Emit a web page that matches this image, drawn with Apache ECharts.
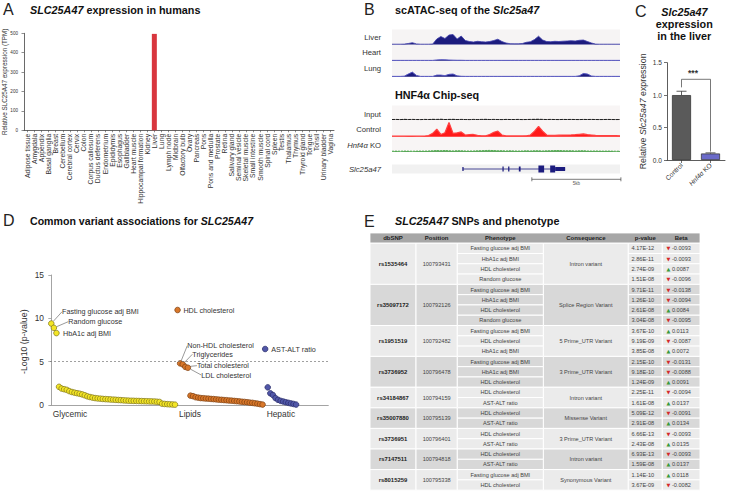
<!DOCTYPE html>
<html>
<head>
<meta charset="utf-8">
<script src="https://cdn.jsdelivr.net/npm/echarts@6/dist/echarts.min.js"></script>
<style>
html,body{margin:0;padding:0;background:#ffffff;}
#chart{width:731px;height:491px;}
</style>
</head>
<body>
<div id="chart"></div>
<script>
// ================= DATA =================
// Panel A
const tissues = ['Adipose tissue','Amygdala','Appendix','Basal ganglia','Breast','Cerebellum','Cerebral cortex','Cervix','Colon','Corpus callosum','Ductus deferens','Endometrium','Epididymis','Esophagus','Gallbladder','Heart muscle','Hippocampal formation','Kidney','Liver','Lung','Lymph node','Midbrain','Olfactory bulb','Ovary','Pancreas','Pons','Pons and medulla','Prostate','Retina','Salivary gland','Seminal vesicle','Skeletal muscle','Small intestine','Smooth muscle','Spinal cord','Spleen','Testis','Thalamus','Thymus','Thyroid gland','Tongue','Tonsil','Urinary bladder','Vagina'];
const tissueTPM = [0,0,0,0,0,0,0,0,0,0,0,0,0,0,0,0,0,0,497,0,0,0,0,0,0,0,0,0,0,0,0,0,0,0,0,0,0,0,0,0,0,0,0,0];
const tpmTicks = [0, 500, 100];

// Panel B (signal per genomic bin, arbitrary units)
const liverATAC = [0.3,0.3,0.3,0.4,1.0,1.8,0.6,0.3,0.3,0.3,0.5,5.5,8.0,6.0,9.5,10.0,5.5,8.5,4.0,3.0,2.5,3.2,2.8,2.5,3.0,4.0,5.3,3.0,1.5,0.8,0.7,0.7,1.0,2.2,2.8,5.0,8.3,4.5,3.0,2.8,3.2,3.0,3.3,3.5,3.8,3.5,4.2,4.5,3.0,1.5,0.4,0.3,0.3,0.3,0.3,0.3,0.3];
const heartATAC = [0.3,0.3,0.3,0.3,0.3,0.3,0.3,0.3,0.3,0.3,0.3,0.7,0.9,0.8,0.6,0.5,0.4,0.4,0.3,0.3,0.3,0.3,0.3,0.3,0.3,0.3,0.3,0.3,0.3,0.3,0.3,0.3,0.3,0.3,0.3,0.3,0.3,0.3,0.3,0.3,0.3,0.3,0.3,0.3,0.3,0.3,0.3,0.3,0.3,0.3,0.3,0.3,0.3,0.3,0.3,0.3,0.3];
const lungATAC = [0.3,0.3,0.3,0.5,2.5,4.3,1.2,0.3,0.3,0.3,0.3,1.5,1.5,1.0,2.2,2.5,0.8,0.4,0.3,0.3,0.3,0.3,0.3,0.3,0.3,0.3,0.3,0.3,0.3,0.3,0.3,0.3,0.3,0.3,0.3,0.3,0.3,0.3,0.3,0.3,0.3,0.3,0.3,0.3,0.3,0.3,0.8,3.0,2.5,0.6,0.3,0.3,0.3,0.3,0.3,0.3,0.3];
const inputChIP = [0.5,0.6,0.4,0.7,0.5,0.6,0.5,0.4,0.6,0.5,0.7,0.6,0.8,0.5,0.6,0.7,0.5,0.6,0.5,0.4,0.6,0.5,0.6,0.7,0.5,0.6,0.5,0.4,0.6,0.5,0.5,0.6,0.4,0.5,0.6,0.7,0.8,0.6,0.5,0.6,0.5,0.4,0.6,0.5,0.6,0.5,0.4,0.6,0.5,0.6,0.5,0.4,0.5,0.6,0.5,0.4,0.5];
const controlChIP = [0.5,0.5,0.5,0.5,0.6,0.6,0.5,0.5,0.6,1.0,3.0,6.7,2.0,3.5,12.7,3.0,3.5,4.3,1.5,1.8,2.0,1.2,0.8,0.8,2.0,4.0,5.0,1.5,0.7,0.7,0.7,0.7,0.7,0.8,1.5,5.0,9.3,5.0,1.5,1.3,1.3,1.4,1.5,1.5,1.6,1.8,2.2,2.5,1.8,1.5,1.2,1.0,1.0,1.0,0.9,0.9,0.8];
const koChIP = [0.5,0.6,0.5,0.7,0.6,0.5,0.6,0.7,0.6,0.8,0.9,1.1,1.0,1.2,0.9,0.8,1.0,0.9,0.8,0.7,0.8,0.9,1.0,1.2,1.3,1.1,0.9,1.0,0.8,0.9,0.8,0.7,0.8,0.9,0.8,1.0,0.9,0.8,0.9,1.0,1.1,1.2,1.0,0.9,1.0,0.8,0.9,1.0,0.8,0.7,0.8,0.7,0.6,0.7,0.6,0.5,0.6];
const trackNames = ['Liver','Heart','Lung','Input','Control','Hnf4α KO','Slc25a47'];
const geneSpanKb = [3.97, 9.72];
const geneExonStartKb = [3.95, 6.20, 6.52, 7.12, 8.22, 8.88, 9.16];
const geneExonEndKb   = [4.02, 6.27, 6.59, 7.22, 8.54, 9.16, 9.72];
const geneExonKind    = ['tss','small','small','small','cds','cds','utr'];
const regionLengthKb = 12.8;
const scaleBarStartKb = 7.85;
const scaleBarLengthKb = 5;

// Panel C
const cGroups = ['Control', 'Hnf4α KO'];
const cMeans = [1.0, 0.1];
const cSems = [0.06, 0.01];
const cTicks = [0, 1.5, 0.5];
const cSigBracket = [1.244, 1.12, 0.13];
const cSigText = '***';

// Panel D
const dGroupNames = ['Glycemic', 'Lipids', 'Hepatic'];
const glycemicTopNames = ['Fasting glucose adj BMI', 'Random glucose', 'HbA1c adj BMI'];
const glycemicTop = [9.4, 8.9, 8.3];
const glycemicRest = [2.1,1.9,1.82,1.75,1.6,1.5,1.42,1.36,1.3,1.22,1.12,1.0,0.92,0.85,0.8,0.76,0.73,0.7,0.68,0.66,0.64,0.62,0.6,0.58,0.56,0.54,0.52,0.5,0.49,0.48,0.47,0.46,0.45,0.44,0.43,0.42,0.41,0.4,0.38,0.35,0.15,0.12,0.1,0.08,0.06,0.04];
const lipidTopNames = ['HDL cholesterol', 'Non-HDL cholesterol', 'Triglycerides', 'Total cholesterol', 'LDL cholesterol'];
const lipidTop = [10.96, 4.8, 4.7, 4.4, 4.3];
const lipidRest = [1.08,1.02,0.9,0.85,0.8,0.78,0.75,0.73,0.7,0.68,0.65,0.62,0.6,0.57,0.55,0.52,0.5,0.47,0.44,0.41,0.38,0.35,0.32,0.28,0.25,0.2,0.15,0.1,0.05];
const hepaticTopNames = ['AST-ALT ratio'];
const hepaticTop = [6.46];
const hepaticRest = [2.04,1.35,1.15,0.8,0.6,0.48,0.4,0.32,0.25,0.18,0.12,0.05];
const dThreshold = 5;
const dTicks = [0, 15, 5];
const dAxisTitle = '-Log10 (p-value)';

// Panel E
const tableHeaders = ['dbSNP','Position','Phenotype','Consequence','p-value','Beta'];
const snpIds = ['rs1535464','rs35097172','rs1951519','rs3736952','rs34184867','rs35007880','rs3736951','rs7147511','rs8015259'];
const snpPositions = ['100793431','100792126','100792482','100796478','100794159','100795139','100796401','100794818','100795338'];
const snpConsequences = ['Intron variant','Splice Region Variant','5 Prime_UTR Variant','3 Prime_UTR Variant','Intron variant','Missense Variant','3 Prime_UTR Variant','Intron variant','Synonymous Variant'];
const snpPhenotypes = [
  ['Fasting glucose adj BMI','HbA1c adj BMI','HDL cholesterol','Random glucose'],
  ['Fasting glucose adj BMI','HbA1c adj BMI','HDL cholesterol','Random glucose'],
  ['Fasting glucose adj BMI','HDL cholesterol','HbA1c adj BMI'],
  ['Fasting glucose adj BMI','HbA1c adj BMI','HDL cholesterol'],
  ['HDL cholesterol','AST-ALT ratio'],
  ['HDL cholesterol','AST-ALT ratio'],
  ['HDL cholesterol','AST-ALT ratio'],
  ['HDL cholesterol','AST-ALT ratio'],
  ['Fasting glucose adj BMI','HDL cholesterol']
];
const snpPValues = [
  ['4.17E-12','2.86E-11','2.74E-09','1.51E-08'],
  ['9.71E-11','1.26E-10','2.61E-08','3.04E-08'],
  ['3.67E-10','9.19E-09','3.85E-08'],
  ['2.15E-10','9.18E-10','1.24E-09'],
  ['2.25E-11','1.61E-08'],
  ['5.09E-12','2.91E-08'],
  ['6.66E-13','2.43E-08'],
  ['6.93E-13','1.59E-08'],
  ['1.14E-10','3.67E-09']
];
const snpBetas = [
  [-0.0093,-0.0093,0.0087,-0.0096],
  [-0.0138,-0.0094,0.0084,-0.0095],
  [0.0113,-0.0087,0.0072],
  [-0.0131,-0.0088,0.0091],
  [-0.0094,0.0137],
  [-0.0091,0.0134],
  [-0.0093,0.0135],
  [-0.0093,0.0137],
  [0.0118,-0.0082]
];

// ================= STYLE / LAYOUT =================
const FONT = '"Liberation Sans", Arial, Helvetica, sans-serif';
const NAVY = '#1c1c7e';
const chart = echarts.init(document.getElementById('chart'), null, {renderer: 'svg', width: 731, height: 491});

const G = (o) => Object.assign({containLabel: false, outerBoundsMode: 'none'}, o);
const trackBg = {show: true, borderWidth: 0};
const grids = [
  G({left: 24, top: 33.3, width: 310, height: 97}),                                       // 0 A
  G(Object.assign({left: 392, top: 29.5, width: 228, height: 15, backgroundColor: '#f6f4f4'}, trackBg)),  // 1 liver
  G(Object.assign({left: 392, top: 44.5, width: 228, height: 16.2, backgroundColor: '#f6f4f4'}, trackBg)),// 2 heart
  G(Object.assign({left: 392, top: 60.7, width: 228, height: 16, backgroundColor: '#f6f4f4'}, trackBg)),  // 3 lung
  G(Object.assign({left: 392, top: 105.5, width: 228, height: 14.5, backgroundColor: '#f8f5f5'}, trackBg)),// 4 input
  G(Object.assign({left: 392, top: 120, width: 228, height: 16.7, backgroundColor: '#f8f5f5'}, trackBg)), // 5 control
  G(Object.assign({left: 392, top: 136.7, width: 228, height: 15, backgroundColor: '#f8f5f5'}, trackBg)), // 6 KO
  G(Object.assign({left: 392, top: 164.5, width: 228, height: 9, backgroundColor: '#f1f1f1'}, trackBg)),  // 7 gene
  G({left: 667, top: 62.7, width: 58, height: 97.3}),                                      // 8 C
  G({left: 50, top: 275, width: 278.3, height: 130})                                       // 9 D
];

const bins = liverATAC.map((_, i) => i);
const hiddenCat = (gi) => ({gridIndex: gi, type: 'category', data: bins, boundaryGap: false, show: false});
const hiddenVal = (gi, min, max) => ({gridIndex: gi, type: 'value', min: min, max: max, show: false});

const axisTxt = {fontFamily: FONT, color: '#333', hideOverlap: false, showMinLabel: true, showMaxLabel: true};
const xAxes = [
  {gridIndex: 0, type: 'category', data: tissues,
   axisLine: {lineStyle: {color: '#444', width: 0.8}},
   axisTick: {show: true, alignWithLabel: true, length: 2, lineStyle: {color: '#444', width: 0.6}},
   axisLabel: Object.assign({interval: 0, rotate: 90, fontSize: 6.8, margin: 3.5}, axisTxt)},
  hiddenCat(1), hiddenCat(2), hiddenCat(3), hiddenCat(4), hiddenCat(5), hiddenCat(6),
  hiddenVal(7, 0, regionLengthKb),
  {gridIndex: 8, type: 'category', data: cGroups,
   axisLine: {lineStyle: {color: '#333', width: 0.8}},
   axisTick: {show: true, alignWithLabel: true, length: 3, lineStyle: {color: '#333', width: 0.7}},
   axisLabel: Object.assign({interval: 0, rotate: 45, fontSize: 6.6, margin: 4,
     formatter: (v) => v.replace('Hnf4α', '{i|Hnf4α}'),
     rich: {i: {fontStyle: 'italic', fontSize: 6.6, fontFamily: FONT, color: '#333'}}}, axisTxt)},
  {gridIndex: 9, type: 'value', min: -0.5, max: 107.5, axisLine: {show: true, lineStyle: {color: '#9a9a9a', width: 0.9}},
   axisTick: {show: false}, axisLabel: {show: false}, splitLine: {show: false}}
];
const yAxes = [
  {gridIndex: 0, type: 'value', min: tpmTicks[0], max: tpmTicks[1], interval: tpmTicks[2],
   name: 'Relative SLC25A47 expression (TPM)', nameLocation: 'middle', nameGap: 16.5, nameMoveOverlap: false,
   nameTextStyle: {fontSize: 6.3, color: '#333', fontFamily: FONT},
   axisLine: {show: true, lineStyle: {color: '#444', width: 0.8}},
   axisTick: {show: true, length: 2.5, lineStyle: {color: '#444', width: 0.6}},
   splitLine: {show: false},
   axisLabel: Object.assign({fontSize: 4.6, margin: 6}, axisTxt)},
  hiddenVal(1, 0, 15), hiddenVal(2, 0, 15), hiddenVal(3, 0, 15),
  hiddenVal(4, 0, 15), hiddenVal(5, 0, 15), hiddenVal(6, 0, 15),
  hiddenVal(7, -1, 1),
  {gridIndex: 8, type: 'value', min: cTicks[0], max: cTicks[1], interval: cTicks[2],
   name: 'Relative {i|Slc25a47} expression', nameLocation: 'middle', nameGap: 19.5, nameMoveOverlap: false,
   nameTextStyle: {fontSize: 8.8, color: '#333', fontFamily: FONT,
     rich: {i: {fontStyle: 'italic', fontSize: 8.8, color: '#333', fontFamily: FONT}}},
   axisLine: {show: true, lineStyle: {color: '#333', width: 0.8}},
   axisTick: {show: true, length: 3, lineStyle: {color: '#333', width: 0.7}},
   splitLine: {show: false},
   axisLabel: Object.assign({fontSize: 6.6, margin: 5, formatter: (v) => v.toFixed(1)}, axisTxt)},
  {gridIndex: 9, type: 'value', min: dTicks[0], max: dTicks[1], interval: dTicks[2],
   axisLine: {show: true, lineStyle: {color: '#9a9a9a', width: 0.9}},
   axisTick: {show: true, length: 3, lineStyle: {color: '#9a9a9a', width: 0.8}},
   splitLine: {show: false},
   axisLabel: Object.assign({fontSize: 8.4, margin: 6}, axisTxt)}
];

const trackSeries = (gi, data, lineColor, fillColor, lw) => ({
  type: 'line', xAxisIndex: gi, yAxisIndex: gi, data: data, symbol: 'none', showSymbol: false,
  silent: true, lineStyle: {color: lineColor, width: lw}, areaStyle: {color: fillColor, opacity: 1}
});

// Panel D data items
const dLabelOffsets = {
  'Fasting glucose adj BMI': [2.6, -11.8], 'Random glucose': [6.3, -6.2], 'HbA1c adj BMI': [-1.5, 0],
  'HDL cholesterol': [-2.3, 0], 'Non-HDL cholesterol': [-1, -17.7], 'Triglycerides': [1.5, -10],
  'Total cholesterol': [3.5, -1.2], 'LDL cholesterol': [5.3, 7.3], 'AST-ALT ratio': [-2, 0]
};
const dLeaders = ['Fasting glucose adj BMI','Random glucose','Non-HDL cholesterol','Triglycerides','Total cholesterol','LDL cholesterol'];
const dSets = [[glycemicTop, glycemicTopNames, glycemicRest], [lipidTop, lipidTopNames, lipidRest], [hepaticTop, hepaticTopNames, hepaticRest]];
const dColors = [['#f3e526', '#7d7318'], ['#d8772a', '#7a3e10'], ['#5157a8', '#262a66']];
let runIdx = 0;
const dStarts = [];
const dData = dSets.map((s) => {
  dStarts.push(runIdx);
  const arr = [];
  s[0].forEach((v, i) => {
    arr.push({value: [runIdx++, v], name: s[1][i], label: {show: true},
      labelLine: {show: dLeaders.indexOf(s[1][i]) >= 0}});
  });
  s[2].forEach((v) => arr.push({value: [runIdx++, v]}));
  return arr;
});
const dSeries = dData.map((data, k) => ({
  type: 'scatter', xAxisIndex: 9, yAxisIndex: 9, data: data, symbolSize: 5.6, silent: true,
  itemStyle: {color: dColors[k][0], borderColor: dColors[k][1], borderWidth: 0.7, opacity: 1},
  label: {show: false, position: 'right', distance: 5, formatter: '{b}', fontSize: 7.2, color: '#333', fontFamily: FONT},
  labelLine: {show: false, lineStyle: {color: '#555', width: 0.6}},
  labelLayout: (p) => { const o = dLabelOffsets[p.text]; return o ? {dx: o[0], dy: o[1], hideOverlap: false} : {}; },
  markLine: k === 0 ? {silent: true, symbol: 'none', label: {show: false},
    lineStyle: {type: [2, 2], color: '#777', width: 0.7}, data: [{yAxis: dThreshold}]} : undefined
}));

const exonH = {tss: 4, small: 5, cds: 7, utr: 4};
const series = [
  {type: 'bar', xAxisIndex: 0, yAxisIndex: 0, data: tissueTPM, barWidth: 5, silent: true,
   itemStyle: {color: '#d8363e'}},
  trackSeries(1, liverATAC, '#3d3daa', NAVY, 0.8),
  trackSeries(2, heartATAC, '#5555c0', NAVY, 1),
  trackSeries(3, lungATAC, '#5555c0', NAVY, 1),
  Object.assign(trackSeries(4, inputChIP, '#111111', '#222222', 0.9), {lineStyle: {color: '#111', width: 0.9, type: [3, 1]}}),
  trackSeries(5, controlChIP, '#ff4040', '#ff1a1a', 1.2),
  Object.assign(trackSeries(6, koChIP, '#4caf4c', '#2e8b2e', 0.8), {lineStyle: {color: '#4caf4c', width: 0.9, type: [2, 1]}}),
  {type: 'line', xAxisIndex: 7, yAxisIndex: 7, data: [[geneSpanKb[0], 0], [geneSpanKb[1], 0]], symbol: 'none',
   silent: true, lineStyle: {color: NAVY, width: 0.8}},
  {type: 'custom', xAxisIndex: 7, yAxisIndex: 7, silent: true,
   data: geneExonStartKb.map((s, i) => [s, geneExonEndKb[i], i]),
   renderItem: (params, api) => {
     const a = api.coord([api.value(0), 0]);
     const b = api.coord([api.value(1), 0]);
     const h = exonH[geneExonKind[api.value(2)]];
     return {type: 'rect', shape: {x: a[0], y: a[1] - h / 2, width: Math.max(b[0] - a[0], 1.1), height: h},
       style: {fill: NAVY}};
   }},
  {type: 'bar', xAxisIndex: 8, yAxisIndex: 8, barWidth: 19, silent: true,
   data: cMeans.map((v, i) => ({value: v, itemStyle: {color: ['#5a5a5a', '#6b6bc9'][i], borderColor: '#2a2a2a', borderWidth: 0.7}}))},
  {type: 'custom', xAxisIndex: 8, yAxisIndex: 8, silent: true, z: 5,
   data: cMeans.map((v, i) => [i, v, cSems[i]]),
   renderItem: (params, api) => {
     const base = api.coord([api.value(0), api.value(1)]);
     const top = api.coord([api.value(0), api.value(1) + api.value(2)]);
     const st = {stroke: '#333', lineWidth: 0.8};
     return {type: 'group', children: [
       {type: 'line', shape: {x1: base[0], y1: base[1], x2: top[0], y2: top[1]}, style: st},
       {type: 'line', shape: {x1: top[0] - 5, y1: top[1], x2: top[0] + 5, y2: top[1]}, style: st}
     ]};
   }},
  {type: 'custom', xAxisIndex: 8, yAxisIndex: 8, silent: true, z: 5,
   data: [[0, 1, cSigBracket[0], cSigBracket[1], cSigBracket[2]]],
   renderItem: (params, api) => {
     const tl = api.coord([api.value(0), api.value(2)]);
     const tr = api.coord([api.value(1), api.value(2)]);
     const bl = api.coord([api.value(0), api.value(3)]);
     const br = api.coord([api.value(1), api.value(4)]);
     return {type: 'group', children: [
       {type: 'polyline', shape: {points: [bl, tl, tr, br]}, style: {stroke: '#555', lineWidth: 0.8, fill: null}},
       {type: 'text', style: {text: cSigText, x: (tl[0] + tr[0]) / 2 - 3, y: tl[1] - 2, align: 'center', textAlign: 'center',
         verticalAlign: 'bottom', textVerticalAlign: 'bottom', fontSize: 8.5, fontWeight: 'bold', fontFamily: FONT, fill: '#333'}}
     ]};
   }}
].concat(dSeries);

chart.setOption({
  animation: false,
  backgroundColor: '#ffffff',
  textStyle: {fontFamily: FONT},
  grid: grids, xAxis: xAxes, yAxis: yAxes, series: series
});

// ================= GRAPHIC (titles, labels, table) =================
const gfx = [];
function txt(text, x, y, size, opts) {
  opts = opts || {};
  const st = {text: text, x: 0, y: 0, fontSize: size, fontFamily: FONT, fontWeight: opts.weight || 'normal',
    fontStyle: opts.style || 'normal', fill: opts.color || '#222',
    align: opts.align || 'left', textAlign: opts.align || 'left',
    verticalAlign: 'middle', textVerticalAlign: 'middle'};
  if (opts.rich) st.rich = opts.rich;
  gfx.push({type: 'text', silent: true, z: 10, x: x, y: y, rotation: opts.rotation || 0, style: st});
}
const italicRich = (size, weight, color) => ({i: {fontStyle: 'italic', fontWeight: weight, fontSize: size, fontFamily: FONT, fill: color}});

// panel letters
txt('A', 3, 9.7, 16); txt('B', 364, 9.7, 16); txt('C', 635, 11, 16);
txt('D', 3, 220, 16); txt('E', 364, 221, 16);
// titles
txt('{i|SLC25A47} expression in humans', 30, 10, 10.8, {weight: 'bold', color: '#111', rich: italicRich(10.8, 'bold', '#111')});
txt('scATAC-seq of the {i|Slc25a47}', 395, 10, 10.8, {weight: 'bold', color: '#111', rich: italicRich(10.8, 'bold', '#111')});
txt('{i|Slc25a47}', 684.3, 11.7, 10.8, {weight: 'bold', color: '#111', align: 'center', rich: italicRich(10.8, 'bold', '#111')});
txt('expression', 684.3, 24.3, 10.8, {weight: 'bold', color: '#111', align: 'center'});
txt('in the liver', 684.3, 35.7, 10.8, {weight: 'bold', color: '#111', align: 'center'});
txt('HNF4α Chip-seq', 395, 95, 10.8, {weight: 'bold', color: '#111'});
txt('Common variant associations for {i|SLC25A47}', 30, 220.7, 10.6, {weight: 'bold', color: '#111', rich: italicRich(10.6, 'bold', '#111')});
txt('{i|SLC25A47} SNPs and phenotype', 395, 220.7, 10.8, {weight: 'bold', color: '#111', rich: italicRich(10.8, 'bold', '#111')});

// D axis title (rotated)
const dMid = chart.convertToPixel({gridIndex: 9}, [-0.5, (dTicks[0] + dTicks[1]) / 2]);
txt(dAxisTitle, dMid[0] - 26, dMid[1] + 1.7, 8.8, {align: 'center', color: '#333', rotation: Math.PI / 2});

// track labels
const trackLabelY = [37.3, 52.7, 68.3, 114.3, 129, 145.7, 169];
trackNames.forEach((n, i) => {
  txt(n.replace('Hnf4α', '{i|Hnf4α}').replace('Slc25a47', '{i|Slc25a47}'), 381, trackLabelY[i], 7.7,
    {align: 'right', color: '#333', rich: italicRich(7.7, 'normal', '#333')});
});

// scale bar
const sb0 = chart.convertToPixel({gridIndex: 7}, [scaleBarStartKb, 0]);
const sb1 = chart.convertToPixel({gridIndex: 7}, [scaleBarStartKb + scaleBarLengthKb, 0]);
const sbY = sb0[1] + 10.3;
const lineSt = {stroke: '#444', lineWidth: 0.7};
gfx.push({type: 'line', silent: true, shape: {x1: sb0[0], y1: sbY, x2: sb1[0], y2: sbY}, style: lineSt});
gfx.push({type: 'line', silent: true, shape: {x1: sb0[0], y1: sbY - 2, x2: sb0[0], y2: sbY + 2}, style: lineSt});
gfx.push({type: 'line', silent: true, shape: {x1: sb1[0], y1: sbY - 2, x2: sb1[0], y2: sbY + 2}, style: lineSt});
txt(scaleBarLengthKb + 'kb', (sb0[0] + sb1[0]) / 2, sbY + 4, 4.5, {align: 'center', color: '#555'});

// D group labels
dGroupNames.forEach((n, k) => {
  const p = chart.convertToPixel({gridIndex: 9}, [dStarts[k], 0]);
  txt(n, p[0] + 1.5, p[1] + 8.5, 8.4, {color: '#333'});
});

// Table
const colX = [370, 416, 457.3, 543.3, 628.3, 662.3, 700];
const headTop = 233, headH = 10.2, rowH = 10.29;
gfx.push({type: 'rect', silent: true, shape: {x: colX[0], y: headTop, width: colX[6] - colX[0], height: headH},
  style: {fill: '#a7a7a7', stroke: '#ffffff', lineWidth: 0.8}});
tableHeaders.forEach((h, c) => {
  txt(h, (colX[c] + colX[c + 1]) / 2, headTop + headH / 2, 6, {weight: 'bold', align: 'center', color: '#222'});
});
let rowIdx = 0;
const tRich = {dn: {fill: '#d42a2a', fontSize: 5, fontFamily: 'DejaVu Sans'}, up: {fill: '#3a9a3a', fontSize: 5, fontFamily: 'DejaVu Sans'}};
snpIds.forEach((id, gi) => {
  const n = snpPhenotypes[gi].length;
  const top = headTop + headH + rowIdx * rowH;
  const bg = gi % 2 ? '#d8d8d8' : '#ebebeb';
  const cellSt = {fill: bg, stroke: '#ffffff', lineWidth: 1};
  [0, 1, 3].forEach((c) => gfx.push({type: 'rect', silent: true,
    shape: {x: colX[c], y: top, width: colX[c + 1] - colX[c], height: n * rowH}, style: cellSt}));
  for (let k = 0; k < n; k++) {
    [2, 4, 5].forEach((c) => gfx.push({type: 'rect', silent: true,
      shape: {x: colX[c], y: top + k * rowH, width: colX[c + 1] - colX[c], height: rowH}, style: cellSt}));
  }
  const midY = top + n * rowH / 2;
  txt(id, (colX[0] + colX[1]) / 2, midY, 5.9, {weight: 'bold', align: 'center', color: '#222'});
  txt(snpPositions[gi], (colX[1] + colX[2]) / 2, midY, 5.6, {align: 'center', color: '#444'});
  txt(snpConsequences[gi], (colX[3] + colX[4]) / 2, midY, 5.6, {align: 'center', color: '#444'});
  for (let k = 0; k < n; k++) {
    const y = top + (k + 0.5) * rowH;
    txt(snpPhenotypes[gi][k], (colX[2] + colX[3]) / 2, y, 5.6, {align: 'center', color: '#444'});
    txt(snpPValues[gi][k], colX[4] + 3.2, y, 5.6, {color: '#444'});
    const b = snpBetas[gi][k];
    txt((b < 0 ? '{dn|▼} ' : '{up|▲} ') + b.toFixed(4), colX[5] + 4.2, y, 5.6, {color: '#444', rich: tRich});
  }
  rowIdx += n;
});

chart.setOption({graphic: {elements: gfx}});
</script>
</body>
</html>
